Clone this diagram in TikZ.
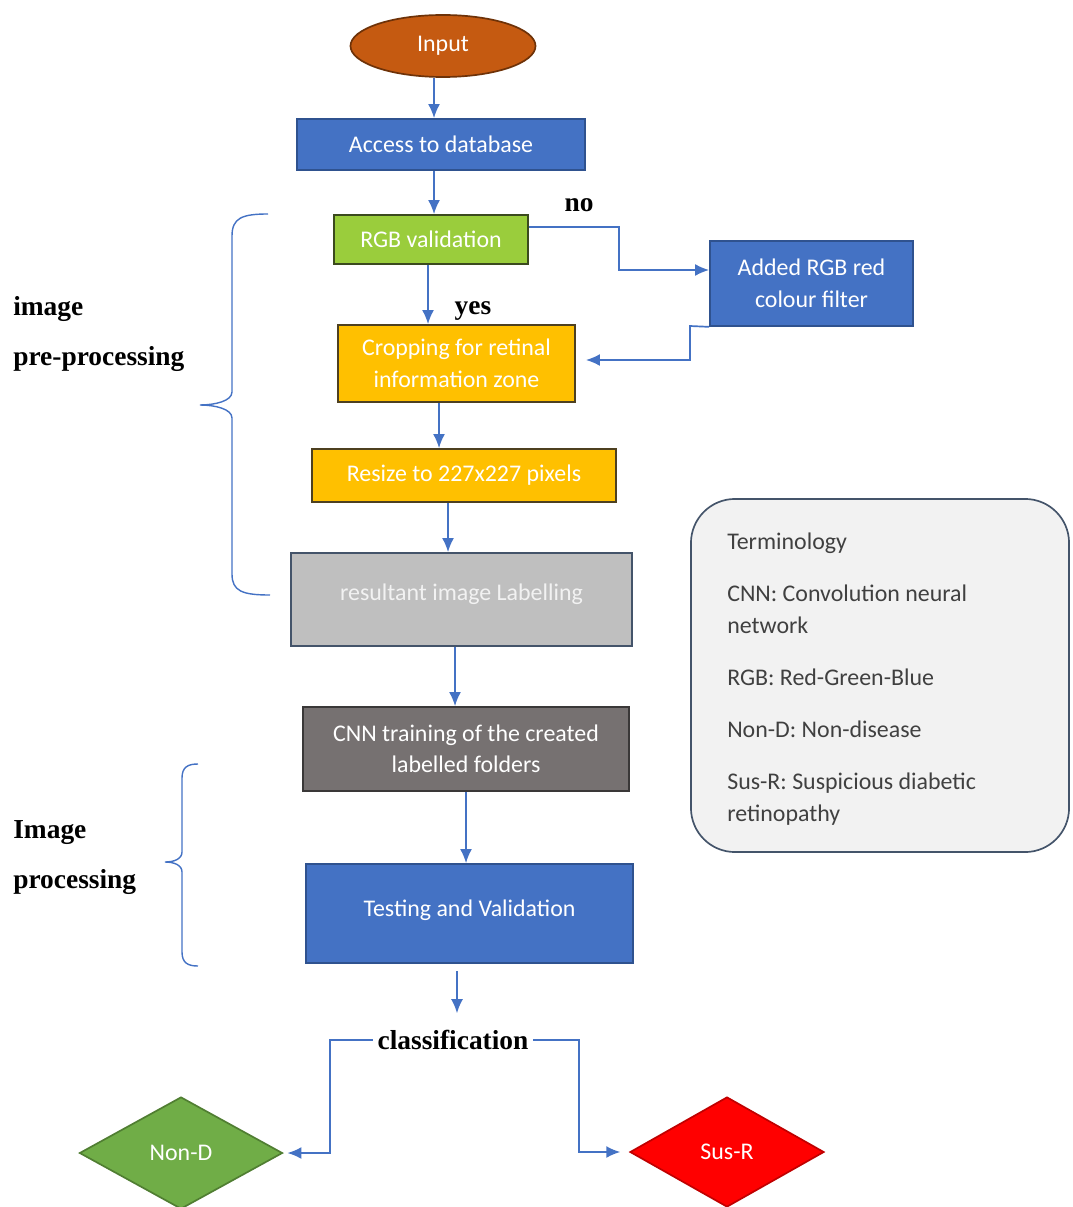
\documentclass[tikz,border=0pt]{standalone}
\usepackage{fontspec}
\setmainfont{Carlito}
\newfontfamily\tagserif{Liberation Serif}
\usetikzlibrary{shapes.geometric,arrows.meta}

\definecolor{flowblue}{HTML}{4472C4}
\definecolor{blueedge}{HTML}{2F528F}
\definecolor{inputorange}{HTML}{C55A11}
\definecolor{inputedge}{HTML}{6E3208}
\definecolor{rgbgreen}{HTML}{9ACD3C}
\definecolor{greenedge}{HTML}{3B4A1E}
\definecolor{gold}{HTML}{FFC000}
\definecolor{goldedge}{HTML}{4D4020}
\definecolor{lightgrey}{HTML}{BFBFBF}
\definecolor{slate}{HTML}{44546A}
\definecolor{darkgrey}{HTML}{767171}
\definecolor{darkedge}{HTML}{3A3838}
\definecolor{nondgreen}{HTML}{70AD47}
\definecolor{nondedge}{HTML}{507E32}
\definecolor{susred}{HTML}{FF0000}
\definecolor{susedge}{HTML}{C00000}
\definecolor{termfill}{HTML}{F2F2F2}
\definecolor{termtext}{HTML}{404040}

\newcommand{\boxfont}{\fontsize{17}{22.4}\selectfont}
\newcommand{\tagfont}{\tagserif\bfseries\fontsize{19.5}{24}\selectfont}

\begin{document}
\begin{tikzpicture}[x=0.025cm,y=-0.025cm,
	box/.style={draw, line width=1.2pt, text=white, font=\boxfont, align=center, inner sep=0pt},
	link/.style={->, >={Latex[length=10pt,width=8.5pt]}, draw=flowblue, line width=1.2pt},
	brace/.style={draw=flowblue, line width=1pt},
	tag/.style={font=\tagfont, text=black}]
	\useasboundingbox (0,0) rectangle (1072,1207);

	% main flow
	\node[ellipse, box, fill=inputorange, draw=inputedge, minimum width=4.625cm, minimum height=1.55cm] (input) at (443,46) {Input};
	\node[box, fill=flowblue, draw=blueedge, minimum width=7.2cm, minimum height=1.275cm] (access) at (441,144.5) {Access to database};
	\node[box, fill=rgbgreen, draw=greenedge, minimum width=4.85cm, minimum height=1.225cm] (rgbval) at (431,239.5) {RGB validation};
	\node[box, fill=flowblue, draw=blueedge, minimum width=5.075cm, minimum height=2.125cm] (filter) at (811.5,283.5) {Added RGB red\\colour filter};
	\node[box, fill=gold, draw=goldedge, minimum width=5.925cm, minimum height=1.925cm] (crop) at (456.5,363.5) {Cropping for retinal\\information zone};
	\node[box, fill=gold, draw=goldedge, minimum width=7.6cm, minimum height=1.325cm] (resize) at (464,475.5) {Resize to 227x227 pixels};
	\node[box, fill=lightgrey, draw=slate, text=termfill, minimum width=8.525cm, minimum height=2.325cm] (labelling) at (461.5,599.5) {\raisebox{0.36cm}{resultant image Labelling}};
	\node[box, fill=darkgrey, draw=darkedge, minimum width=8.15cm, minimum height=2.1cm] (cnn) at (466,749) {CNN training of the created\\labelled folders};
	\node[box, fill=flowblue, draw=blueedge, minimum width=8.175cm, minimum height=2.475cm] (testing) at (469.5,913.5) {\raisebox{0.26cm}{Testing and Validation}};
	\node[tag] (classif) at (453,1040) {classification};
	\node[diamond, box, fill=nondgreen, draw=nondedge, minimum width=5.075cm, minimum height=2.8cm] (nond) at (181,1153) {Non-D};
	\node[diamond, box, fill=susred, draw=susedge, minimum width=4.85cm, minimum height=2.75cm] (susr) at (727,1152) {Sus-R};

	\node[tag] (no) at (579,205) {no};
	\node[tag] (yes) at (473,311) {yes};

	% connectors
	\draw[link] (input.south -| 434,0) -- (access.north -| 434,0);
	\draw[link] (access.south -| 434,0) -- (rgbval.north -| 434,0);
	\draw[link] (rgbval.east |- 0,227) -- (619,227) -- (619,270) -- (filter.west |- 0,270);
	\draw[link] (rgbval.south -| 428,0) -- (crop.north -| 428,0);
	\draw[link, shorten >=0.25cm] (filter.south west) -- (690,326) -- (690,360) -- (crop.east |- 0,360);
	\draw[link] (crop.south -| 439,0) -- (resize.north -| 439,0);
	\draw[link] (resize.south -| 448,0) -- (labelling.north -| 448,0);
	\draw[link] (labelling.south -| 455,0) -- (cnn.north -| 455,0);
	\draw[link] (cnn.south -| 466,0) -- (testing.north -| 466,0);
	\draw[link, shorten <=0.18cm, shorten >=0.3cm] (testing.south -| 457,0) -- (classif.north -| 457,0);
	\draw[link, shorten >=0.1cm] (classif.west) -- (330,1040) |- (nond.east);
	\draw[link, shorten >=0.22cm] (classif.east) -- (579,1040) |- (susr.west);

	% braces and side labels
	\draw[brace] (268,214) .. controls (242,214) and (232,218) .. (232,236) -- (232,392) .. controls (232,401) and (215,405) .. (200,405) .. controls (215,405) and (232,409) .. (232,418) -- (232,574) .. controls (232,591) and (242,595) .. (270,595);
	\draw[brace] (198,764) .. controls (188,764) and (182,767) .. (182,778) -- (182,852) .. controls (182,859) and (174,862) .. (165,862) .. controls (174,862) and (182,865) .. (182,872) -- (182,952) .. controls (182,963) and (188,966) .. (198,966);
	\node[tag, anchor=base west, inner sep=0pt] (pre1) at (13,315) {image};
	\node[tag, anchor=base west, inner sep=0pt] (pre2) at (13,365) {pre-processing};
	\node[tag, anchor=base west, inner sep=0pt] (proc1) at (13,838) {Image};
	\node[tag, anchor=base west, inner sep=0pt] (proc2) at (13,888) {processing};

	% terminology
	\node[draw=slate, fill=termfill, line width=1.2pt, rounded corners=1.1cm, minimum width=9.45cm, minimum height=8.825cm] (term) at (880,675.5) {};
	\node[anchor=north west, align=left, inner sep=0pt, text=termtext, font=\boxfont] (termlist) at (727,533) {Terminology\\[14.6pt]
		CNN: Convolution neural\\
		network\\[14.6pt]
		RGB: Red-Green-Blue\\[14.6pt]
		Non-D: Non-disease\\[14.6pt]
		Sus-R: Suspicious diabetic\\
		retinopathy};
\end{tikzpicture}
\end{document}
